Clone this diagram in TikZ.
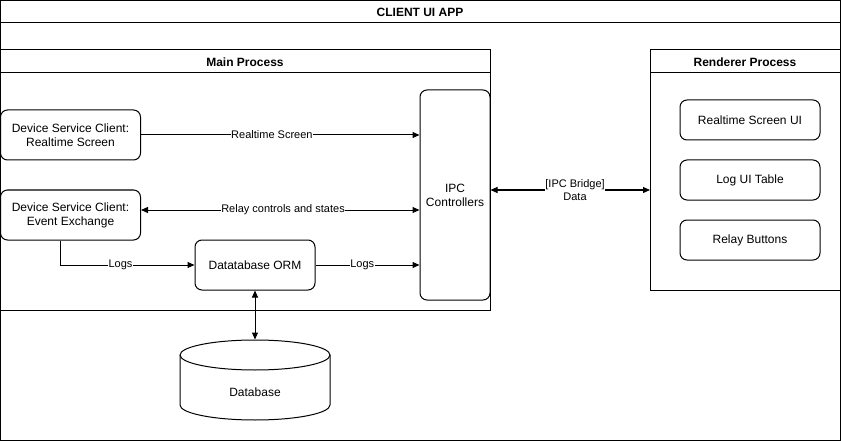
\documentclass[tikz,border=0pt]{standalone}
\usepackage{fontspec}
\setmainfont{Liberation Sans}
\usetikzlibrary{arrows.meta}
\begin{document}
\begin{tikzpicture}[x=1pt,y=-1pt,
  line width=1pt,
  every node/.style={font=\fontsize{12}{14}\selectfont, inner sep=0pt},
  rbox/.style={draw, rounded corners=7pt, align=center},
  frame/.style={draw},
  ttl/.style={font=\bfseries\fontsize{12}{14}\selectfont},
  lbl/.style={fill=white, font=\fontsize{11}{13}\selectfont, inner sep=0.5pt, align=center},
  arr/.style={-{Triangle[length=7pt,width=6pt]}},
  barr/.style={{Triangle[length=7pt,width=6pt]}-{Triangle[length=7pt,width=6pt]}}
]
\useasboundingbox (0,0) rectangle (841,441);
% outer frame
\draw[frame] (0.5,0.5) rectangle (840.5,440.5);
\draw (0.5,23) -- (840.5,23);
\node[ttl] (apptitle) at (420,12) {CLIENT UI APP};
% main process
\draw[frame] (0.5,50) rectangle (490,310);
\draw (0.5,73) -- (490,73);
\node[ttl] (maintitle) at (245,62) {Main Process};
% renderer process
\draw[frame] (650,50) rectangle (840,290);
\draw (650,73) -- (840,73);
\node[ttl] (rentitle) at (745,62) {Renderer Process};

% nodes
\node[rbox, minimum width=140pt, minimum height=50pt] (dsrt) at (70.5,135) {Device Service Client:\\Realtime Screen};
\node[rbox, minimum width=140pt, minimum height=50pt] (dsev) at (70.5,215) {Device Service Client:\\Event Exchange};
\node[rbox, minimum width=120pt, minimum height=50pt] (orm) at (255,265) {Datatabase ORM};
\node[rbox, minimum width=70pt, minimum height=210pt] (ipc) at (455,195) {IPC\\Controllers};
\node[rbox, minimum width=140pt, minimum height=40pt] (rsui) at (750,120) {Realtime Screen UI};
\node[rbox, minimum width=140pt, minimum height=40pt] (logui) at (750,180) {Log UI Table};
\node[rbox, minimum width=140pt, minimum height=40pt] (relb) at (750,240) {Relay Buttons};
% database cylinder
\node[minimum width=150pt, minimum height=80pt] (db) at (255,380) {};
\draw (180,355) arc[start angle=180, end angle=360, x radius=75, y radius=15]
      -- (330,405) arc[start angle=0, end angle=180, x radius=75, y radius=15] -- cycle;
\draw (180,355) arc[start angle=180, end angle=0, x radius=75, y radius=15];
\node (dblabel) at (255,392) {Database};

% connectors
\draw[arr] (dsrt.east) -- node[lbl, pos=0.47]{Realtime Screen} (dsrt.east -| ipc.west);
\draw[barr] (dsev.east |- 0,210) -- node[lbl, pos=0.51]{Relay controls and states} (ipc.west |- 0,210);
\coordinate (bend) at (60,265);
\draw[arr] (dsev.south -| bend) -- (bend) -- node[lbl, pos=0.45]{Logs} (orm.west);
\draw[arr] (orm.east) -- node[lbl, pos=0.45]{Logs} (orm.east -| ipc.west);
\draw[barr] (ipc.east |- 0,190) -- node[lbl, pos=0.53]{[IPC Bridge]\\Data} (650,190);
\draw[barr] (orm.south) -- (db.north);
\end{tikzpicture}
\end{document}
